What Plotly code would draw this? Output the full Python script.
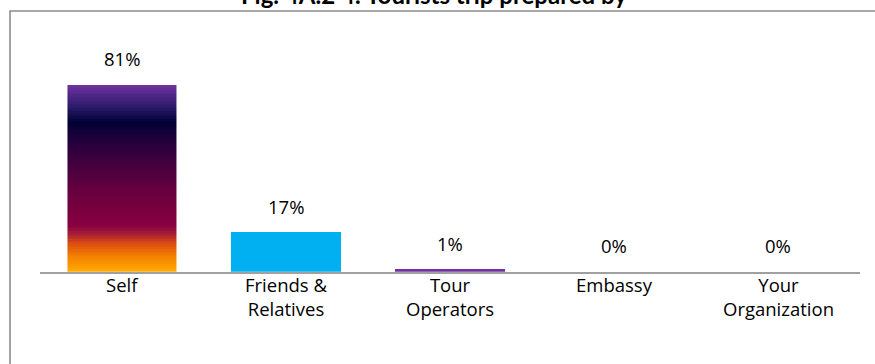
import numpy as np
import plotly.graph_objects as go

# Chart data
categories = ["Self", "Friends &<br>Relatives", "Tour<br>Operators", "Embassy", "Your<br>Organization"]
shares = [81, 17, 1, 0, 0]
labels = ["81%", "17%", "1%", "0%", "0%"]
# first bar is filled by the gradient layer below, so its own fill is transparent
bar_colors = ["rgba(0,0,0,0)", "#00B0F0", "#7030A0", "#7030A0", "#7030A0"]
title_text = "Fig. 4A.2 4: Tourists trip prepared by"

W, H = 875, 364
FONT = "'Open Sans', Lato, sans-serif"
TITLE_FONT = "Lato, 'Open Sans', sans-serif"
TEXT_SIZE = 18.5
BAR_W = 0.665
x_pos = list(range(len(categories)))

# Plot area in pixels (left, right, baseline from top, top from top)
px_left, px_right = 40, 860
px_base, px_top = 271.7, 41.2

fig = go.Figure()

# Gradient fill for the first bar (sunset style), drawn as a heatmap under the bar
grad_stops = [
    [0.00, "#FFAC00"],
    [0.08, "#F58200"],
    [0.15, "#DC5010"],
    [0.21, "#A01838"],
    [0.25, "#880040"],
    [0.42, "#6A003E"],
    [0.60, "#3E003E"],
    [0.76, "#100038"],
    [0.80, "#000035"],
    [0.88, "#2A1A68"],
    [1.00, "#7032A2"],
]
n_rows = 120
y_edges = np.linspace(0, shares[0], n_rows + 1)
y_mid = (y_edges[:-1] + y_edges[1:]) / 2
z = (y_mid / shares[0]).reshape(-1, 1)
fig.add_trace(go.Heatmap(
    x=[x_pos[0] - BAR_W / 2, x_pos[0] + BAR_W / 2],
    y=y_edges, z=z,
    colorscale=grad_stops, zmin=0, zmax=1, showscale=False,
    hoverinfo="skip",
))

fig.add_trace(go.Bar(
    x=x_pos, y=shares, width=BAR_W,
    marker=dict(color=bar_colors, line=dict(width=0)),
    hoverinfo="skip", showlegend=False,
))

# Value labels above each bar
for xi, v, t in zip(x_pos, shares, labels):
    fig.add_annotation(
        x=xi, y=v, text=t, showarrow=False, xref="x", yref="y",
        yanchor="middle", yshift=26,
        font=dict(family=FONT, size=TEXT_SIZE, color="#000000"),
    )

# Category labels under the baseline
for xi, c in zip(x_pos, categories):
    fig.add_annotation(
        x=xi, y=0, text=c, showarrow=False, xref="x", yref="y",
        yanchor="top", yshift=2, align="center",
        font=dict(family=FONT, size=TEXT_SIZE, color="#000000"),
    )

# Title, partly above the visible area
fig.add_annotation(
    x=0.496, y=1.0, xref="paper", yref="paper", text=f"<b>{title_text}</b>",
    showarrow=False, xanchor="center", yanchor="middle", yshift=6,
    font=dict(family=TITLE_FONT, size=24, color="#000000"),
)

# Chart frame
fig.add_shape(
    type="rect", xref="paper", yref="paper",
    x0=10 / W, x1=1.05, y0=-0.05, y1=(H - 11) / H,
    line=dict(color="#8C8C8C", width=1.6), fillcolor="rgba(0,0,0,0)", layer="below",
)

fig.update_layout(
    width=W, height=H,
    margin=dict(l=0, r=0, t=0, b=0),
    paper_bgcolor="#FFFFFF", plot_bgcolor="#FFFFFF",
    bargap=0, showlegend=False,
    font=dict(family=FONT, size=TEXT_SIZE, color="#000000"),
    xaxis=dict(
        domain=[px_left / W, px_right / W],
        range=[-0.5, len(categories) - 0.5],
        showticklabels=False,
        showgrid=False, zeroline=False, showline=True,
        linecolor="#A0A0A0", linewidth=2, ticks="",
        fixedrange=True,
    ),
    yaxis=dict(
        domain=[(H - px_base) / H, (H - px_top) / H],
        range=[0, 100], visible=False, fixedrange=True,
    ),
)

fig.write_html("out.html")
